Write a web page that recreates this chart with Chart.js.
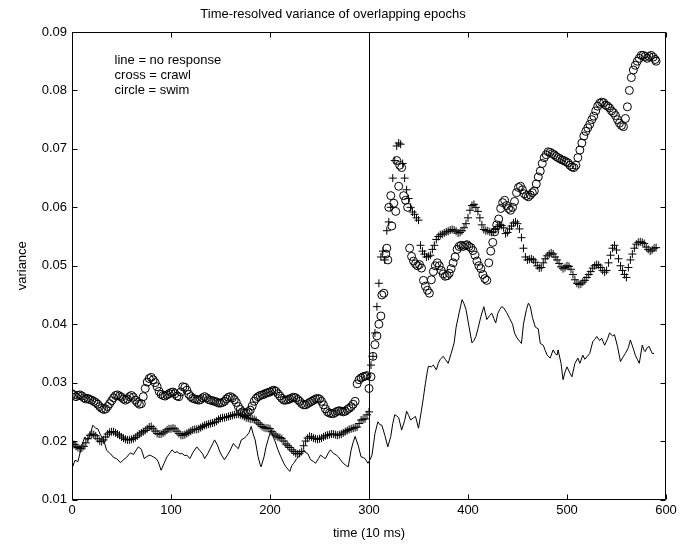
<!DOCTYPE html>
<html>
<head>
<meta charset="utf-8">
<script src="https://cdn.jsdelivr.net/npm/chart.js@4/dist/chart.umd.min.js"></script>
<style>
  html, body { margin: 0; padding: 0; background: #fff; }
  canvas { display: block; }
</style>
</head>
<body>
<canvas id="c" width="688" height="544"></canvas>
<script>
// Time-resolved variance, sampled as [time (10 ms), variance] pairs.

// line = no response
const noResponse = [[0,0.0153],[3,0.0167],[6,0.0165],[10,0.0193],[13,0.0207],[16,0.0201],[19,0.0215],[21,0.0227],[24,0.0222],[26,0.0221],[29,0.0210],[32,0.0202],[35,0.0184],[39,0.0178],[42,0.0172],[45,0.0170],[49,0.0163],[52,0.0168],[55,0.0172],[59,0.0180],[62,0.0177],[65,0.0185],[67,0.0190],[70,0.0186],[73,0.0170],[76,0.0174],[79,0.0176],[82,0.0173],[85,0.0170],[87,0.0165],[90,0.0150],[93,0.0162],[96,0.0173],[99,0.0180],[101,0.0185],[104,0.0180],[106,0.0182],[109,0.0178],[111,0.0179],[114,0.0175],[116,0.0176],[119,0.0170],[122,0.0180],[126,0.0190],[129,0.0184],[132,0.0178],[134,0.0170],[137,0.0178],[139,0.0185],[142,0.0195],[144,0.0202],[147,0.0193],[149,0.0183],[151,0.0176],[154,0.0168],[157,0.0176],[160,0.0185],[163,0.0196],[166,0.0190],[168,0.0187],[171,0.0202],[174,0.0205],[176,0.0208],[179,0.0215],[181,0.0225],[183,0.0212],[185,0.0202],[188,0.0173],[190,0.0160],[191,0.0156],[194,0.0173],[196,0.0190],[198,0.0202],[201,0.0219],[203,0.0208],[205,0.0200],[208,0.0185],[211,0.0173],[214,0.0162],[216,0.0156],[219,0.0150],[220,0.0148],[222,0.0158],[224,0.0162],[227,0.0170],[229,0.0173],[232,0.0180],[234,0.0185],[236,0.0180],[238,0.0179],[241,0.0168],[244,0.0165],[246,0.0162],[249,0.0170],[251,0.0176],[254,0.0172],[256,0.0170],[259,0.0180],[261,0.0185],[264,0.0179],[267,0.0176],[269,0.0173],[272,0.0166],[274,0.0162],[277,0.0158],[279,0.0156],[282,0.0185],[284,0.0198],[286,0.0208],[289,0.0193],[292,0.0173],[294,0.0172],[296,0.0170],[299,0.0162],[301,0.0168],[303,0.0176],[305,0.0200],[306,0.0213],[309,0.0233],[311,0.0228],[313,0.0227],[316,0.0210],[319,0.0190],[322,0.0208],[324,0.0230],[326,0.0245],[328,0.0243],[330,0.0240],[333,0.0219],[336,0.0235],[338,0.0251],[340,0.0244],[342,0.0236],[345,0.0240],[347,0.0242],[350,0.0222],[353,0.0253],[355,0.0275],[357,0.0299],[359,0.0320],[360,0.0328],[363,0.0327],[365,0.0330],[368,0.0322],[370,0.0333],[372,0.0340],[375,0.0345],[377,0.0340],[380,0.0333],[383,0.0350],[386,0.0368],[388,0.0395],[391,0.0419],[394,0.0442],[396,0.0435],[398,0.0425],[401,0.0396],[404,0.0368],[406,0.0372],[408,0.0379],[410,0.0392],[413,0.0413],[416,0.0430],[419,0.0408],[422,0.0415],[424,0.0419],[426,0.0410],[428,0.0402],[430,0.0418],[432,0.0425],[434,0.0430],[436,0.0428],[439,0.0420],[442,0.0410],[445,0.0400],[447,0.0385],[449,0.0378],[451,0.0373],[454,0.0367],[456,0.0400],[459,0.0425],[461,0.0436],[463,0.0430],[465,0.0412],[468,0.0395],[471,0.0392],[473,0.0367],[476,0.0364],[478,0.0355],[480,0.0347],[483,0.0342],[486,0.0356],[488,0.0350],[490,0.0347],[491,0.0356],[494,0.0333],[496,0.0305],[498,0.0318],[500,0.0327],[503,0.0316],[505,0.0310],[508,0.0333],[511,0.0342],[513,0.0333],[516,0.0347],[518,0.0340],[520,0.0344],[523,0.0350],[526,0.0370],[528,0.0374],[530,0.0379],[533,0.0372],[535,0.0376],[538,0.0364],[541,0.0375],[543,0.0385],[546,0.0380],[548,0.0382],[551,0.0362],[554,0.0336],[557,0.0345],[559,0.0350],[562,0.0360],[564,0.0373],[567,0.0358],[569,0.0347],[571,0.0340],[573,0.0333],[576,0.0364],[578,0.0355],[579,0.0353],[581,0.0360],[583,0.0362],[586,0.0350],[588,0.0350]];

// cross = crawl
const crawl = [[0,0.0197],[2,0.0194],[4,0.0191],[6,0.0189],[8,0.0187],[10,0.0188],[12,0.0191],[14,0.0197],[16,0.0204],[18,0.0210],[20,0.0212],[22,0.0211],[24,0.0209],[26,0.0204],[28,0.0200],[30,0.0199],[32,0.0202],[34,0.0207],[36,0.0212],[38,0.0215],[40,0.0216],[42,0.0216],[44,0.0214],[46,0.0212],[48,0.0210],[50,0.0207],[52,0.0205],[54,0.0203],[56,0.0202],[58,0.0202],[60,0.0203],[62,0.0204],[64,0.0206],[66,0.0209],[68,0.0212],[70,0.0214],[72,0.0216],[74,0.0218],[76,0.0221],[78,0.0224],[80,0.0225],[82,0.0221],[84,0.0217],[86,0.0213],[88,0.0212],[90,0.0212],[92,0.0214],[94,0.0216],[96,0.0219],[98,0.0221],[100,0.0221],[102,0.0222],[104,0.0221],[106,0.0217],[108,0.0213],[110,0.0210],[112,0.0210],[114,0.0211],[116,0.0213],[118,0.0215],[120,0.0217],[122,0.0219],[124,0.0220],[126,0.0220],[128,0.0221],[130,0.0223],[132,0.0225],[134,0.0227],[136,0.0228],[138,0.0229],[140,0.0230],[142,0.0231],[144,0.0232],[146,0.0234],[148,0.0237],[150,0.0239],[152,0.0240],[154,0.0240],[156,0.0241],[158,0.0242],[160,0.0243],[162,0.0244],[164,0.0245],[166,0.0246],[168,0.0246],[170,0.0245],[172,0.0244],[174,0.0242],[176,0.0240],[178,0.0239],[180,0.0238],[182,0.0238],[184,0.0237],[186,0.0235],[188,0.0231],[190,0.0228],[192,0.0225],[194,0.0223],[196,0.0222],[198,0.0222],[200,0.0221],[202,0.0216],[204,0.0212],[206,0.0209],[208,0.0207],[210,0.0206],[212,0.0204],[214,0.0200],[216,0.0195],[218,0.0192],[220,0.0189],[222,0.0185],[224,0.0182],[226,0.0179],[228,0.0178],[230,0.0179],[232,0.0182],[234,0.0192],[236,0.0200],[238,0.0205],[240,0.0208],[242,0.0207],[244,0.0205],[246,0.0204],[248,0.0203],[250,0.0204],[252,0.0205],[254,0.0207],[256,0.0209],[258,0.0210],[260,0.0211],[262,0.0212],[264,0.0212],[266,0.0211],[268,0.0210],[270,0.0211],[272,0.0212],[274,0.0214],[276,0.0216],[278,0.0218],[280,0.0220],[282,0.0221],[284,0.0222],[286,0.0223],[288,0.0224],[290,0.0230],[292,0.0236],[294,0.0237],[296,0.0238],[298,0.0245],[300,0.0250],[302,0.0330],[304,0.0345],[306,0.0385],[308,0.0430],[310,0.0470],[312,0.0515],[314,0.0525],[316,0.0510],[318,0.0560],[320,0.0575],[322,0.0600],[324,0.0650],[326,0.0680],[328,0.0705],[330,0.0710],[332,0.0708],[334,0.0675],[336,0.0650],[338,0.0630],[340,0.0615],[342,0.0600],[344,0.0592],[346,0.0588],[348,0.0582],[350,0.0578],[352,0.0535],[354,0.0525],[356,0.0520],[358,0.0515],[360,0.0516],[362,0.0518],[364,0.0528],[366,0.0535],[368,0.0545],[370,0.0550],[372,0.0553],[374,0.0554],[376,0.0556],[378,0.0558],[380,0.0559],[382,0.0561],[384,0.0562],[386,0.0561],[388,0.0559],[390,0.0556],[392,0.0557],[394,0.0560],[396,0.0565],[398,0.0572],[400,0.0582],[402,0.0595],[404,0.0603],[406,0.0605],[408,0.0600],[410,0.0593],[412,0.0582],[414,0.0570],[416,0.0562],[418,0.0560],[420,0.0560],[422,0.0558],[424,0.0557],[426,0.0558],[428,0.0562],[430,0.0567],[432,0.0570],[434,0.0569],[436,0.0565],[438,0.0555],[440,0.0557],[442,0.0563],[444,0.0568],[446,0.0573],[448,0.0575],[450,0.0572],[452,0.0563],[454,0.0548],[456,0.0530],[458,0.0515],[460,0.0510],[462,0.0511],[464,0.0512],[466,0.0510],[468,0.0506],[470,0.0500],[472,0.0496],[474,0.0497],[476,0.0505],[478,0.0512],[480,0.0517],[482,0.0520],[484,0.0522],[486,0.0520],[488,0.0515],[490,0.0510],[492,0.0504],[494,0.0498],[496,0.0495],[498,0.0497],[500,0.0500],[502,0.0499],[504,0.0494],[506,0.0485],[508,0.0476],[510,0.0470],[512,0.0468],[514,0.0469],[516,0.0472],[518,0.0475],[520,0.0480],[522,0.0485],[524,0.0490],[526,0.0496],[528,0.0500],[530,0.0502],[532,0.0501],[534,0.0497],[536,0.0492],[538,0.0489],[540,0.0492],[542,0.0505],[544,0.0518],[546,0.0530],[548,0.0535],[550,0.0527],[552,0.0512],[554,0.0500],[556,0.0492],[558,0.0485],[560,0.0480],[562,0.0497],[564,0.0510],[566,0.0520],[568,0.0530],[570,0.0537],[572,0.0540],[574,0.0541],[576,0.0540],[578,0.0538],[580,0.0532],[582,0.0528],[584,0.0525],[586,0.0527],[588,0.0530],[590,0.0531]];

// circle = swim
const swim = [[0,0.0281],[2,0.0279],[4,0.0276],[6,0.0278],[8,0.0279],[10,0.0277],[12,0.0274],[14,0.0272],[16,0.0273],[18,0.0271],[20,0.0270],[22,0.0268],[24,0.0266],[26,0.0263],[28,0.0259],[30,0.0256],[32,0.0254],[34,0.0255],[36,0.0259],[38,0.0264],[40,0.0269],[42,0.0274],[44,0.0278],[46,0.0279],[48,0.0277],[50,0.0275],[52,0.0272],[54,0.0270],[56,0.0272],[58,0.0276],[60,0.0278],[62,0.0275],[64,0.0270],[66,0.0266],[68,0.0263],[70,0.0264],[72,0.0276],[74,0.0290],[76,0.0301],[78,0.0307],[80,0.0309],[82,0.0305],[84,0.0300],[86,0.0293],[88,0.0285],[90,0.0280],[92,0.0278],[94,0.0277],[96,0.0279],[98,0.0281],[100,0.0283],[102,0.0284],[104,0.0281],[106,0.0277],[108,0.0276],[110,0.0284],[112,0.0293],[114,0.0292],[116,0.0287],[118,0.0280],[120,0.0276],[122,0.0273],[124,0.0272],[126,0.0271],[128,0.0270],[130,0.0271],[132,0.0274],[134,0.0276],[136,0.0274],[138,0.0271],[140,0.0270],[142,0.0269],[144,0.0268],[146,0.0267],[148,0.0265],[150,0.0265],[152,0.0266],[154,0.0268],[156,0.0272],[158,0.0275],[160,0.0276],[162,0.0274],[164,0.0271],[166,0.0266],[168,0.0259],[170,0.0254],[172,0.0250],[174,0.0248],[176,0.0248],[178,0.0250],[180,0.0253],[182,0.0260],[184,0.0268],[186,0.0273],[188,0.0276],[190,0.0278],[192,0.0279],[194,0.0280],[196,0.0282],[198,0.0283],[200,0.0284],[202,0.0286],[204,0.0287],[206,0.0285],[208,0.0281],[210,0.0277],[212,0.0273],[214,0.0270],[216,0.0270],[218,0.0271],[220,0.0272],[222,0.0274],[224,0.0275],[226,0.0274],[228,0.0271],[230,0.0268],[232,0.0264],[234,0.0262],[236,0.0262],[238,0.0264],[240,0.0266],[242,0.0268],[244,0.0270],[246,0.0272],[248,0.0273],[250,0.0272],[252,0.0268],[254,0.0262],[256,0.0255],[258,0.0250],[260,0.0248],[262,0.0247],[264,0.0247],[266,0.0249],[268,0.0251],[270,0.0252],[272,0.0251],[274,0.0250],[276,0.0251],[278,0.0254],[280,0.0256],[282,0.0259],[284,0.0263],[286,0.0268],[288,0.0298],[290,0.0305],[292,0.0308],[294,0.0310],[296,0.0311],[298,0.0312],[300,0.0290],[302,0.0310],[304,0.0345],[306,0.0365],[308,0.0380],[310,0.0400],[312,0.0414],[313,0.0450],[315,0.0453],[317,0.0520],[318,0.0530],[319,0.0510],[320,0.0600],[322,0.0620],[323,0.0568],[325,0.0607],[327,0.0593],[328,0.0680],[330,0.0636],[331,0.0672],[333,0.0668],[335,0.0620],[337,0.0612],[339,0.0600],[341,0.0530],[343,0.0516],[345,0.0508],[347,0.0503],[349,0.0500],[351,0.0502],[353,0.0496],[355,0.0475],[357,0.0465],[359,0.0458],[361,0.0453],[363,0.0476],[365,0.0490],[367,0.0500],[369,0.0505],[371,0.0500],[373,0.0492],[375,0.0486],[377,0.0482],[379,0.0483],[381,0.0487],[383,0.0495],[385,0.0505],[387,0.0515],[389,0.0528],[391,0.0533],[393,0.0535],[395,0.0533],[397,0.0535],[399,0.0536],[401,0.0533],[403,0.0531],[405,0.0526],[407,0.0518],[409,0.0508],[411,0.0500],[413,0.0495],[415,0.0485],[417,0.0478],[419,0.0475],[421,0.0505],[423,0.0525],[425,0.0540],[427,0.0558],[429,0.0570],[431,0.0580],[433,0.0598],[435,0.0608],[437,0.0612],[439,0.0603],[441,0.0598],[443,0.0595],[445,0.0600],[447,0.0610],[449,0.0625],[451,0.0634],[453,0.0636],[455,0.0630],[457,0.0623],[459,0.0620],[461,0.0618],[463,0.0621],[465,0.0625],[467,0.0628],[469,0.0640],[471,0.0652],[473,0.0662],[475,0.0675],[477,0.0685],[479,0.0690],[481,0.0695],[483,0.0694],[485,0.0692],[487,0.0690],[489,0.0687],[491,0.0685],[493,0.0683],[495,0.0681],[497,0.0680],[499,0.0678],[501,0.0676],[503,0.0672],[505,0.0669],[507,0.0668],[509,0.0672],[511,0.0685],[513,0.0698],[515,0.0710],[517,0.0722],[519,0.0730],[521,0.0736],[523,0.0742],[525,0.0750],[527,0.0756],[529,0.0765],[531,0.0773],[533,0.0778],[535,0.0780],[537,0.0779],[539,0.0775],[541,0.0773],[543,0.0770],[545,0.0765],[547,0.0762],[549,0.0757],[551,0.0750],[553,0.0744],[555,0.0740],[557,0.0738],[559,0.0752],[561,0.0772],[563,0.0800],[565,0.0822],[567,0.0835],[569,0.0843],[571,0.0850],[573,0.0855],[575,0.0860],[577,0.0860],[579,0.0858],[581,0.0855],[583,0.0858],[585,0.0860],[587,0.0857],[589,0.0853],[590,0.0850]];

// Stimulus onset marker
const onsetTime = 300;

// Axis ticks
const xTickValues = [0, 100, 200, 300, 400, 500, 600];
const xTickLabels = ['0', '100', '200', '300', '400', '500', '600'];
const yTickValues = [0.01, 0.02, 0.03, 0.04, 0.05, 0.06, 0.07, 0.08, 0.09];
const yTickLabels = ['0.01', '0.02', '0.03', '0.04', '0.05', '0.06', '0.07', '0.08', '0.09'];

// Key text, anchored in data coordinates
const keyLines = ['line = no response', 'cross = crawl', 'circle = swim'];
const keyAnchor = [43, 0.0851];

const FONT = '"Liberation Sans", Arial, Helvetica, sans-serif';
Chart.defaults.font.family = FONT;
Chart.defaults.font.size = 13;
Chart.defaults.color = '#000';

const toPoints = pairs => pairs.map(([x, y]) => ({ x, y }));

// Box frame, inward tick marks, onset line and the key text
const framePlugin = {
  id: 'frame',
  afterDatasetsDraw(chart) {
    const { ctx, chartArea: a, scales: { x, y } } = chart;
    const L = Math.round(a.left) + 0.5, R = Math.round(a.right) - 0.5;
    const T = Math.round(a.top) + 0.5, B = Math.round(a.bottom) - 0.5;
    const tick = 5;
    ctx.save();
    ctx.strokeStyle = '#000';
    ctx.lineWidth = 1;
    ctx.beginPath();
    ctx.rect(L, T, R - L, B - T);
    xTickValues.forEach(v => {
      const px = Math.round(x.getPixelForValue(v)) + 0.5;
      ctx.moveTo(px, B); ctx.lineTo(px, B - tick);
      ctx.moveTo(px, T); ctx.lineTo(px, T + tick);
    });
    yTickValues.forEach(v => {
      const py = Math.round(y.getPixelForValue(v)) + 0.5;
      ctx.moveTo(L, py); ctx.lineTo(L + tick, py);
      ctx.moveTo(R, py); ctx.lineTo(R - tick, py);
    });
    const ox = Math.round(x.getPixelForValue(onsetTime)) + 0.5;
    ctx.moveTo(ox, T); ctx.lineTo(ox, B);
    ctx.stroke();

    ctx.fillStyle = '#000';
    ctx.font = '13px ' + FONT;
    ctx.textBaseline = 'middle';
    ctx.textAlign = 'left';
    const kx = x.getPixelForValue(keyAnchor[0]);
    const ky = y.getPixelForValue(keyAnchor[1]);
    keyLines.forEach((t, i) => ctx.fillText(t, kx, ky + i * 14.7));
    ctx.restore();
  }
};

new Chart(document.getElementById('c'), {
  type: 'scatter',
  data: {
    datasets: [
      {
        label: 'no response',
        type: 'line',
        data: toPoints(noResponse),
        borderColor: '#000',
        borderWidth: 1,
        pointRadius: 0,
        tension: 0,
        fill: false
      },
      {
        label: 'crawl',
        data: toPoints(crawl),
        pointStyle: 'cross',
        pointRadius: 4,
        borderColor: '#000',
        borderWidth: 1,
        backgroundColor: '#000'
      },
      {
        label: 'swim',
        data: toPoints(swim),
        pointStyle: 'circle',
        pointRadius: 4,
        borderColor: '#000',
        borderWidth: 1,
        backgroundColor: 'rgba(0,0,0,0)'
      }
    ]
  },
  options: {
    responsive: false,
    animation: false,
    events: [],
    layout: { padding: { left: 0, right: 22, top: 0, bottom: 0 } },
    plugins: {
      legend: { display: false },
      tooltip: { enabled: false },
      title: {
        display: true,
        text: 'Time-resolved variance of overlapping epochs',
        font: { size: 13, weight: 'normal' },
        color: '#000',
        padding: { top: 7, bottom: 9.4 }
      }
    },
    scales: {
      x: {
        type: 'linear',
        min: 0,
        max: 600,
        grid: { display: false, drawTicks: false },
        border: { display: false },
        afterBuildTicks: s => { s.ticks = xTickValues.map(v => ({ value: v })); },
        afterFit: s => { s.height = 44.5; },
        ticks: {
          padding: 3,
          maxRotation: 0,
          callback: (v, i) => xTickLabels[i]
        },
        title: {
          display: true,
          text: 'time (10 ms)',
          font: { size: 13 },
          padding: { top: 0, bottom: 3.2 }
        }
      },
      y: {
        type: 'linear',
        min: 0.01,
        max: 0.09,
        grid: { display: false, drawTicks: false },
        border: { display: false },
        afterBuildTicks: s => { s.ticks = yTickValues.map(v => ({ value: v })); },
        afterFit: s => { s.width = 72; },
        ticks: {
          padding: 5,
          callback: (v, i) => yTickLabels[i]
        },
        title: {
          display: true,
          text: 'variance',
          font: { size: 13 },
          padding: { top: 14.2, bottom: 0 }
        }
      }
    }
  },
  plugins: [framePlugin]
});
</script>
</body>
</html>
